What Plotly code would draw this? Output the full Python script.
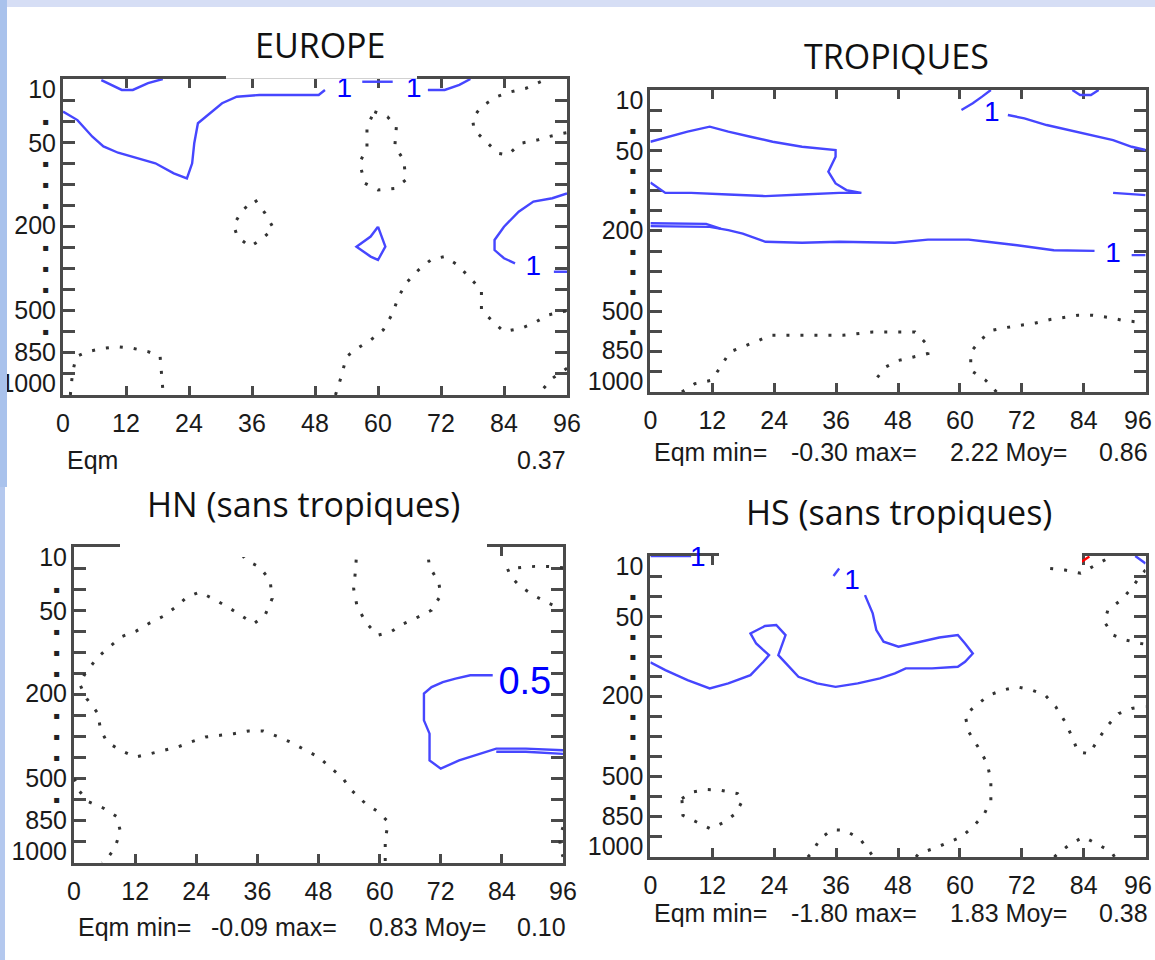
import plotly.graph_objects as go

W, H = 1155, 960

# ---------------- axis values ----------------
hour_ticks = [0, 12, 24, 36, 48, 60, 72, 84, 96]
hour_labels = ["0", "12", "24", "36", "48", "60", "72", "84", "96"]
level_labels = ["10", "50", "200", "500", "850", "1000"]
level_label_pos = [0.5, 3.05, 6.95, 11.0, 12.95, 14.45]
level_tick_pos = list(range(1, 15))
level_dot_pos = [2, 4, 5, 6, 8, 9, 10, 12]

titles = ["EUROPE", "TROPIQUES", "HN (sans tropiques)", "HS (sans tropiques)"]

# ---------------- EUROPE ----------------
eu_pos_a_h = [7.3, 9.1, 11.2, 13.3, 16.2, 19.0]
eu_pos_a_l = [0.05, 0.28, 0.52, 0.52, 0.2, 0.0]
eu_pos_b_h = [0, 2.75, 5.6, 7.7, 10.5, 13.3, 17.6, 21.1, 23.6, 24.6, 25.0, 25.7, 27.5, 30.3, 33.1, 37.4, 48.7, 49.9]
eu_pos_b_l = [1.55, 1.95, 2.74, 3.2, 3.5, 3.69, 4.0, 4.48, 4.72, 4.0, 3.05, 2.1, 1.71, 1.15, 0.84, 0.76, 0.76, 0.52]
eu_pos_c_h = [57.0, 62.8]
eu_pos_c_l = [0.13, 0.13]
eu_pos_d_h = [69.5, 72.7, 75.5, 77.6]
eu_pos_d_l = [0.52, 0.52, 0.28, 0.0]
eu_pos_e_h = [60.0, 61.4, 60.0, 58.6, 55.9, 58.6, 60.0]
eu_pos_e_l = [7.01, 7.96, 8.59, 8.43, 7.96, 7.48, 7.01]
eu_pos_f_h = [96, 93.2, 89.6, 86.8, 84.0, 82.2, 82.2, 84.0, 86.1]
eu_pos_f_l = [5.43, 5.66, 5.82, 6.3, 7.01, 7.64, 8.12, 8.51, 8.75]
eu_pos_g_h = [93.5, 96]
eu_pos_g_l = [9.15, 9.15]

eu_neg_a_h = [59.3, 61.8, 63.5, 63.2, 64.9, 65.3, 63.2, 60.0, 57.5, 56.5, 57.9, 57.9, 59.3]
eu_neg_a_l = [1.55, 1.79, 2.26, 3.21, 3.84, 4.79, 5.19, 5.27, 4.95, 4.0, 3.21, 2.26, 1.55]
eu_neg_b_h = [36.6, 38.5, 40.1, 37.8, 35.6, 33.2, 32.5, 34.2, 36.6]
eu_neg_b_l = [5.74, 6.38, 7.09, 7.61, 7.96, 7.48, 6.93, 6.22, 5.74]
eu_neg_c_h = [91.0, 88.2, 85.4, 82.6, 79.7, 78.0, 78.3, 80.5, 82.9, 84.7, 87.2, 90.3, 92.4, 95.3, 96]
eu_neg_c_l = [0.13, 0.44, 0.6, 0.84, 1.31, 1.87, 2.42, 2.97, 3.53, 3.61, 3.05, 2.9, 2.74, 2.58, 2.55]
eu_neg_d_h = [51.9, 52.9, 54.0, 56.1, 58.6, 61.0, 62.8, 63.9, 65.6, 67.7, 70.2, 72.7, 75.2, 77.3, 79.7, 79.7,
              81.9, 84.0, 87.2, 89.6, 92.4, 95.3, 96]
eu_neg_d_l = [15, 14.21, 13.18, 12.78, 12.39, 11.91, 11.12, 10.33, 9.62, 9.07, 8.56, 8.43, 8.83, 9.38, 10.02,
              10.97, 11.52, 11.99, 11.84, 11.6, 11.2, 11.04, 11.0]
eu_neg_e_h = [96, 93.2, 91.0, 90.3]
eu_neg_e_l = [13.73, 14.21, 14.84, 15]
eu_neg_f_h = [1.4, 1.8, 2.5, 4.7, 7.8, 10.6, 13.2, 16.2, 18.5, 18.8, 19.1]
eu_neg_f_l = [15, 13.97, 13.18, 12.94, 12.78, 12.71, 12.78, 12.94, 13.18, 14.13, 15]

eu_lab_h = [53.6, 66.8, 89.6]
eu_lab_l = [0.52, 0.53, 8.98]
eu_lab_t = ["1", "1", "1"]

# ---------------- TROPIQUES ----------------
tr_pos_a_h = [0, 3.6, 7.2, 11.5, 15.1, 19.4, 23.7, 29.4, 35.9, 35.9, 34.5, 35.9, 38.0, 40.9, 36.6, 29.4, 22.3,
              15.1, 7.9, 2.9, 0.7, 0]
tr_pos_a_l = [2.57, 2.32, 2.07, 1.82, 2.07, 2.32, 2.57, 2.82, 2.98, 3.32, 4.06, 4.64, 4.97, 5.11, 5.11, 5.19,
              5.27, 5.19, 5.11, 5.11, 4.72, 4.6]
tr_pos_b_h = [0, 11.5, 15.1, 17.9, 22.3, 29.4, 36.6, 47.4, 53.8, 61.7, 65.3, 71.1, 78.2, 86.1]
tr_pos_b_l = [6.76, 6.8, 6.96, 7.13, 7.54, 7.59, 7.54, 7.59, 7.43, 7.43, 7.54, 7.71, 7.96, 7.99]
tr_pos_b2_h = [0, 10.8, 13.6]
tr_pos_b2_l = [6.62, 6.65, 6.88]
tr_pos_c_h = [93.3, 96]
tr_pos_c_l = [8.2, 8.2]
tr_pos_d_h = [69.3, 72.5, 76.8, 81.1, 85.4, 89.7, 93.3, 96]
tr_pos_d_l = [1.24, 1.41, 1.74, 1.99, 2.24, 2.49, 2.82, 2.98]
tr_pos_e_h = [60.3, 62.5, 64.3, 66.0]
tr_pos_e_l = [0.99, 0.66, 0.33, 0.0]
tr_pos_f_h = [81.8, 83.3, 85.4, 86.9]
tr_pos_f_l = [0.0, 0.25, 0.25, 0.0]
tr_pos_g_h = [89.7, 96]
tr_pos_g_l = [5.11, 5.22]

tr_neg_a_h = [6.1, 8.6, 11.8, 13.6, 15.4, 17.9, 20.8, 23.3, 26.6, 31.6, 37.3, 43.1, 48.8, 51.3, 53.5, 53.8,
              51.0, 48.1, 45.6, 43.8, 43.1]
tr_neg_a_l = [15, 14.59, 14.42, 13.76, 13.01, 12.76, 12.46, 12.18, 12.18, 12.18, 12.18, 12.02, 12.02, 12.02,
              12.6, 13.09, 13.26, 13.43, 13.76, 14.34, 14.75]
tr_neg_b_h = [67.1, 65.0, 62.1, 62.1, 64.3, 66.4, 68.9, 72.1, 74.7, 77.5, 80.4, 82.9, 85.8, 89.0, 91.5, 94.4, 96]
tr_neg_b_l = [15, 14.42, 13.92, 13.01, 12.35, 11.93, 11.8, 11.69, 11.57, 11.4, 11.27, 11.19, 11.19, 11.3,
              11.44, 11.52, 11.52]

tr_lab_h = [66.2, 89.7]
tr_lab_l = [1.19, 8.2]
tr_lab_t = ["1", "1"]

# ---------------- HN (sans tropiques) ----------------
hn_neg_a_h = [33.1, 33.8, 36.4, 38.5, 38.9, 37.5, 35.3, 32.7, 30.2, 27.5, 24.7, 22.2, 20.0, 17.5, 14.9, 12.2,
              9.5, 6.9, 4.7, 2.2, 1.1, 2.5, 4.7, 5.2, 6.5, 9.1, 12.0, 14.5, 17.5, 20.4, 22.9, 25.8, 28.7,
              31.4, 34.3, 37.1, 39.9, 42.5, 45.5, 48.0, 50.2, 52.7, 54.5, 57.1, 59.6, 61.7, 61.1, 61.1]
hn_neg_a_l = [0.4, 0.63, 0.95, 1.58, 2.45, 3.24, 3.64, 3.24, 2.85, 2.48, 2.14, 2.37, 2.85, 3.29, 3.6, 3.99,
              4.24, 4.75, 5.22, 6.0, 6.5, 7.2, 7.9, 8.67, 9.26, 9.65, 9.97, 9.84, 9.65, 9.49, 9.26, 9.02,
              8.94, 8.86, 8.73, 8.73, 8.99, 9.26, 9.65, 9.97, 10.44, 10.95, 11.55, 12.15, 12.55, 13.05,
              13.9, 15]
hn_neg_b_h = [55.4, 55.3, 54.9, 55.6, 57.5, 59.6, 62.2, 64.7, 67.6, 70.2, 72.0, 71.6, 69.8, 69.6]
hn_neg_b_l = [0.6, 1.03, 1.98, 2.85, 3.64, 4.19, 4.03, 3.64, 3.32, 3.0, 2.29, 1.66, 0.95, 0.6]
hn_neg_c_h = [96, 93.1, 90.5, 88.0, 85.1, 85.8, 87.6, 90.2, 93.1, 95.6, 96]
hn_neg_c_l = [0.98, 0.92, 0.92, 0.98, 1.03, 1.42, 1.87, 2.29, 2.66, 2.93, 2.97]
hn_neg_d_h = [0, 0.4, 1.1, 2.9, 5.8, 8.4, 9.1, 8.0, 6.0, 5.5]
hn_neg_d_l = [11.0, 11.16, 11.6, 12.1, 12.4, 12.8, 13.5, 14.3, 14.95, 15]
hn_neg_e_h = [96, 95.3, 95.6, 96]
hn_neg_e_l = [13.3, 13.8, 14.4, 14.7]

hn_pos_a_h = [82.2, 77.8, 74.9, 72.4, 70.2, 68.7, 68.7, 69.8, 69.8, 72.0, 75.6, 79.3, 82.9, 88.7, 96]
hn_pos_a_l = [6.09, 6.09, 6.25, 6.41, 6.65, 6.96, 8.23, 8.86, 10.13, 10.52, 10.13, 9.84, 9.57, 9.57, 9.65]
hn_pos_b_h = [82.9, 88.7, 96]
hn_pos_b_l = [9.72, 9.72, 9.82]

hn_lab_h = [88.5]
hn_lab_l = [6.52]
hn_lab_t = ["0.5"]

# ---------------- HS (sans tropiques) ----------------
hs_pos_a_h = [0, 7.9]
hs_pos_a_l = [0.0, 0.0]
hs_pos_b_h = [0, 2.9, 7.2, 11.5, 15.1, 19.4, 21.9, 23.0, 20.5, 19.4, 22.2, 24.4, 26.2, 25.5, 24.8, 26.6, 28.7,
              32.3, 35.9, 40.2, 44.5, 47.4, 49.5, 54.6, 59.6, 61.0, 62.5, 61.0, 59.6, 56.0, 52.4, 48.1, 45.2,
              43.8, 43.1, 41.6]
hs_pos_b_l = [5.3, 5.69, 6.19, 6.6, 6.35, 5.94, 5.27, 4.94, 4.36, 3.86, 3.49, 3.44, 3.94, 4.44, 4.94, 5.44,
              6.02, 6.35, 6.52, 6.35, 6.1, 5.85, 5.6, 5.6, 5.52, 5.27, 4.86, 4.36, 3.94, 4.06, 4.27, 4.52,
              4.27, 3.69, 2.86, 1.95]
hs_pos_c_h = [36.6, 35.5]
hs_pos_c_l = [0.62, 1.0]
hs_pos_d_h = [94.0, 96]
hs_pos_d_l = [0.0, 0.37]
hs_red_h = [83.6, 85.1]
hs_red_l = [0.28, 0.03]

hs_neg_a_h = [6.1, 8.2, 11.0, 13.6, 16.9, 17.9, 16.5, 14.0, 11.6, 9.2, 6.3, 6.1]
hs_neg_a_l = [12.09, 11.76, 11.64, 11.67, 11.84, 12.17, 12.84, 13.3, 13.59, 13.3, 12.92, 12.09]
hs_neg_b_h = [30.5, 31.2, 32.9, 35.2, 37.7, 40.6, 42.7, 43.2]
hs_neg_b_l = [15, 14.83, 14.09, 13.64, 13.67, 14.09, 14.8, 15]
hs_neg_c_h = [51.5, 52.0, 54.9, 57.6, 60.3, 62.5, 64.6, 66.0, 66.0, 65.3, 63.5, 61.7, 61.0, 63.2, 65.7, 68.2,
              71.1, 74.0, 76.5, 78.6, 80.4, 81.8, 82.9, 85.1, 86.9, 88.7, 90.8, 93.3, 95.5, 96]
hs_neg_c_l = [15, 14.83, 14.58, 14.3, 14.0, 13.5, 12.92, 12.17, 11.18, 10.34, 9.51, 8.76, 7.93, 7.43, 6.93,
              6.69, 6.52, 6.69, 6.93, 7.52, 8.27, 9.05, 9.76, 9.85, 9.1, 8.43, 7.85, 7.6, 7.52, 7.5]
hs_neg_d_h = [77.5, 80.4, 83.4, 85.8, 88.7, 89.5]
hs_neg_d_l = [0.62, 0.7, 0.86, 0.53, 0.12, 0.0]
hs_neg_e_h = [96, 95.1, 93.3, 91.2, 88.7, 88.0, 89.7, 92.2, 95.1, 96]
hs_neg_e_l = [0.7, 0.95, 1.61, 2.2, 2.69, 3.28, 3.94, 4.19, 4.36, 4.4]
hs_neg_f_h = [78.3, 79.0, 81.5, 84.0, 86.5, 89.4, 90.0]
hs_neg_f_l = [15, 14.83, 14.34, 14.0, 14.34, 14.75, 15]

hs_lab_h = [9.2, 39.1]
hs_lab_l = [0.15, 1.3]
hs_lab_t = ["1", "1"]

# statistics lines under each panel
eqm_eu = ["Eqm", "0.37"]
eqm_tr = ["Eqm min=", "-0.30 max=", "2.22 Moy=", "0.86"]
eqm_hn = ["Eqm min=", "-0.09 max=", "0.83 Moy=", "0.10"]
eqm_hs = ["Eqm min=", "-1.80 max=", "1.83 Moy=", "0.38"]

# ---------------- styling / layout ----------------
BLUE = "#4646ff"
DOT = "#333333"
FRAME = "#4a4a4a"
NARROW = "Liberation Sans Narrow, Liberation Sans, Arial, sans-serif"
TITLE_FONT = "Open Sans, Noto Sans, sans-serif"

# panel frames in pixels: left, right, top, bottom
frames = [(63, 567, 79, 395), (650.4, 1145.6, 90, 392), (74, 563, 547, 863), (650.4, 1145.6, 556, 857)]
right_panels = [1, 3]

fig = go.Figure()


def sfx(i):
    return "" if i == 0 else str(i + 1)


def add_pos(i, h, l, width=2.4):
    fig.add_trace(go.Scatter(x=h, y=l, mode="lines", line=dict(color=BLUE, width=width),
                             xaxis="x" + sfx(i), yaxis="y" + sfx(i), showlegend=False, hoverinfo="skip"))


def add_neg(i, h, l):
    fig.add_trace(go.Scatter(x=h, y=l, mode="lines", line=dict(color=DOT, width=3, dash="3px,11px"),
                             xaxis="x" + sfx(i), yaxis="y" + sfx(i), showlegend=False, hoverinfo="skip"))


def add_lab(i, h, l, t, size):
    fig.add_trace(go.Scatter(x=h, y=l, mode="text", text=t, cliponaxis=False,
                             textfont=dict(family=NARROW, size=size, color="#0000ff"),
                             xaxis="x" + sfx(i), yaxis="y" + sfx(i), showlegend=False, hoverinfo="skip"))


# EUROPE
for h, l in [(eu_pos_a_h, eu_pos_a_l), (eu_pos_b_h, eu_pos_b_l), (eu_pos_c_h, eu_pos_c_l),
             (eu_pos_d_h, eu_pos_d_l), (eu_pos_e_h, eu_pos_e_l), (eu_pos_f_h, eu_pos_f_l),
             (eu_pos_g_h, eu_pos_g_l)]:
    add_pos(0, h, l)
for h, l in [(eu_neg_a_h, eu_neg_a_l), (eu_neg_b_h, eu_neg_b_l), (eu_neg_c_h, eu_neg_c_l),
             (eu_neg_d_h, eu_neg_d_l), (eu_neg_e_h, eu_neg_e_l), (eu_neg_f_h, eu_neg_f_l)]:
    add_neg(0, h, l)
add_lab(0, eu_lab_h, eu_lab_l, eu_lab_t, 28)

# TROPIQUES
for h, l in [(tr_pos_a_h, tr_pos_a_l), (tr_pos_b_h, tr_pos_b_l), (tr_pos_b2_h, tr_pos_b2_l),
             (tr_pos_c_h, tr_pos_c_l), (tr_pos_d_h, tr_pos_d_l), (tr_pos_e_h, tr_pos_e_l),
             (tr_pos_f_h, tr_pos_f_l), (tr_pos_g_h, tr_pos_g_l)]:
    add_pos(1, h, l)
for h, l in [(tr_neg_a_h, tr_neg_a_l), (tr_neg_b_h, tr_neg_b_l)]:
    add_neg(1, h, l)
add_lab(1, tr_lab_h, tr_lab_l, tr_lab_t, 28)

# HN
for h, l in [(hn_pos_a_h, hn_pos_a_l), (hn_pos_b_h, hn_pos_b_l)]:
    add_pos(2, h, l)
for h, l in [(hn_neg_a_h, hn_neg_a_l), (hn_neg_b_h, hn_neg_b_l), (hn_neg_c_h, hn_neg_c_l),
             (hn_neg_d_h, hn_neg_d_l), (hn_neg_e_h, hn_neg_e_l)]:
    add_neg(2, h, l)
add_lab(2, hn_lab_h, hn_lab_l, hn_lab_t, 38)

# HS
for h, l in [(hs_pos_a_h, hs_pos_a_l), (hs_pos_b_h, hs_pos_b_l), (hs_pos_c_h, hs_pos_c_l),
             (hs_pos_d_h, hs_pos_d_l)]:
    add_pos(3, h, l)
fig.add_trace(go.Scatter(x=hs_red_h, y=hs_red_l, mode="lines", line=dict(color="#ff0000", width=2.4),
                         xaxis="x4", yaxis="y4", showlegend=False, hoverinfo="skip"))
for h, l in [(hs_neg_a_h, hs_neg_a_l), (hs_neg_b_h, hs_neg_b_l), (hs_neg_c_h, hs_neg_c_l),
             (hs_neg_d_h, hs_neg_d_l), (hs_neg_e_h, hs_neg_e_l), (hs_neg_f_h, hs_neg_f_l)]:
    add_neg(3, h, l)
add_lab(3, hs_lab_h, hs_lab_l, hs_lab_t, 28)

# invisible anchor traces so the pressure-label axes are drawn
for i in range(4):
    fig.add_trace(go.Scatter(x=[48], y=[7], mode="markers", marker=dict(opacity=0, size=1),
                             xaxis="x" + sfx(i), yaxis="y" + str(i + 5), showlegend=False, hoverinfo="skip"))

layout = dict(template="none", width=W, height=H, margin=dict(l=0, r=0, t=0, b=0, pad=0),
              paper_bgcolor="white", plot_bgcolor="white", showlegend=False)

tick_font = dict(family=NARROW, size=25, color="#1a1a1a")
for i, (x0, x1, y0, y1) in enumerate(frames):
    s = sfx(i)
    # on the right-hand panels the last hour label sits at the page edge; it is drawn right-aligned below
    xt = [lab if not (i in right_panels and v == hour_ticks[-1]) else "" for v, lab in zip(hour_ticks, hour_labels)]
    layout["xaxis" + s] = dict(
        domain=[x0 / W, x1 / W], range=[0, 96], anchor="y" + s, automargin=False,
        tickmode="array", tickvals=hour_ticks, ticktext=xt,
        ticks="inside", ticklen=9, tickwidth=3, tickcolor=FRAME,
        showline=True, linewidth=3, linecolor=FRAME, mirror="ticks",
        showgrid=False, zeroline=False, tickfont=tick_font, layer="below traces",
        ticklabelstandoff=4, ticklabeloverflow="allow")
    layout["yaxis" + s] = dict(
        domain=[1 - y1 / H, 1 - y0 / H], range=[15, 0], anchor="x" + s, automargin=False,
        tickmode="array", tickvals=level_tick_pos,
        ticktext=["\u25aa" if p in level_dot_pos else "" for p in level_tick_pos],
        ticks="inside", ticklen=12, tickwidth=3, tickcolor=FRAME,
        showline=True, linewidth=3, linecolor=FRAME, mirror="ticks",
        showgrid=False, zeroline=False, layer="below traces",
        tickfont=dict(family="DejaVu Sans", size=10, color="#222"), ticklabelstandoff=9,
        ticklabeloverflow="allow")
    layout["yaxis" + str(i + 5)] = dict(
        overlaying="y" + s, anchor="x" + s, side="left", range=[15, 0], automargin=False,
        tickmode="array", tickvals=level_label_pos, ticktext=level_labels,
        ticks="", showline=False, showgrid=False, zeroline=False,
        tickfont=tick_font, ticklabelstandoff=6, ticklabeloverflow="allow")

fig.update_layout(**layout)


def px_x(x):
    return x / W


def px_y(y):
    return 1 - y / H


annots = []
title_pos = [(320, 45), (896, 56), (303, 504), (899, 512)]
for t, (tx, ty) in zip(titles, title_pos):
    annots.append(dict(text=t, x=px_x(tx), y=px_y(ty), xref="paper", yref="paper",
                       xanchor="center", yanchor="middle", showarrow=False,
                       font=dict(family=TITLE_FONT, size=34, color="#111")))

# last hour label of the right-hand panels, kept inside the page
for i, yy in [(1, 420), (3, 885)]:
    annots.append(dict(text=hour_labels[-1], x=px_x(1154), y=px_y(yy), xref="paper", yref="paper",
                       xanchor="right", yanchor="middle", showarrow=False, font=tick_font))

eqm_font = dict(family=NARROW, size=25, color="#1a1a1a")
eqm_sets = [
    (eqm_eu, [65, 515], 460),
    (eqm_tr, [652, 789, 948, 1097], 452),
    (eqm_hn, [76, 209, 367, 515], 927),
    (eqm_hs, [652, 789, 948, 1097], 913),
]
for texts, xs, yy in eqm_sets:
    for t, xx in zip(texts, xs):
        annots.append(dict(text=t, x=px_x(xx), y=px_y(yy), xref="paper", yref="paper",
                           xanchor="left", yanchor="middle", showarrow=False, font=eqm_font))
fig.update_layout(annotations=annots)

shapes = [
    # slide background strips
    dict(type="rect", xref="paper", yref="paper", x0=0, x1=1, y0=px_y(7), y1=1,
         fillcolor="#d6def5", line_width=0, layer="above"),
    dict(type="rect", xref="paper", yref="paper", x0=0, x1=px_x(7), y0=px_y(487), y1=1,
         fillcolor="#a9c2ec", line_width=0, layer="above"),
    dict(type="rect", xref="paper", yref="paper", x0=0, x1=px_x(5), y0=0, y1=px_y(487),
         fillcolor="#b4c8ee", line_width=0, layer="above"),
    # white boxes hiding parts of the frames (titles pasted over)
    dict(type="rect", xref="paper", yref="paper", x0=px_x(226), x1=px_x(417), y0=px_y(78.8), y1=px_y(74),
         fillcolor="white", line_width=0, layer="above"),
    dict(type="rect", xref="paper", yref="paper", x0=px_x(120), x1=px_x(487), y0=px_y(557), y1=px_y(540),
         fillcolor="white", line_width=0, layer="above"),
    dict(type="rect", xref="paper", yref="paper", x0=px_x(719), x1=px_x(1082), y0=px_y(565), y1=px_y(548),
         fillcolor="white", line_width=0, layer="above"),
]
fig.update_layout(shapes=shapes)

fig.write_html("out.html", config={"displayModeBar": False},
               post_script="document.body.style.margin='0';document.body.style.overflow='hidden';")
